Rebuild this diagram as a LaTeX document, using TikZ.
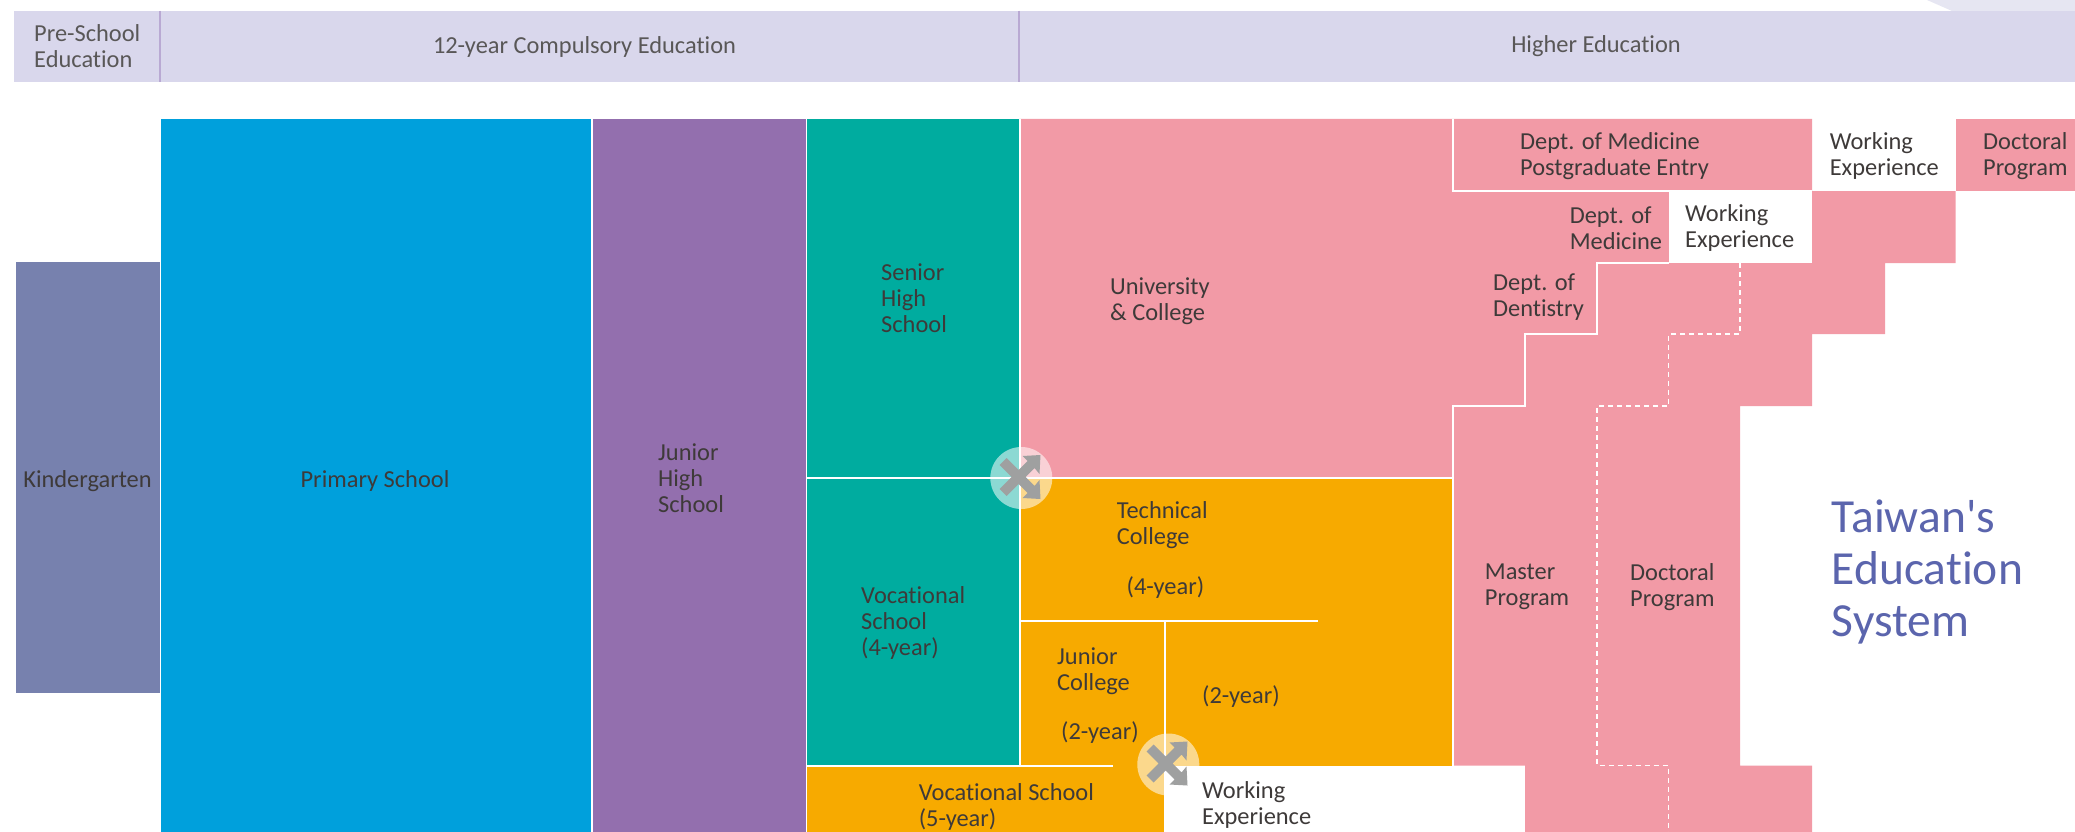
\documentclass[tikz,border=0pt]{standalone}
\usepackage{fontspec}
\newfontfamily\lblfont[Ligatures=NoCommon]{Carlito}
\definecolor{hdr}{HTML}{D9D7EC}
\definecolor{hdrlight}{HTML}{E6E6F2}
\definecolor{hdrsep}{HTML}{B9A9D3}
\definecolor{kinder}{HTML}{7781AE}
\definecolor{primaryblue}{HTML}{00A0DC}
\definecolor{juniorpurple}{HTML}{936FAE}
\definecolor{tealc}{HTML}{00AC9F}
\definecolor{pinkc}{HTML}{F29AA6}
\definecolor{orangec}{HTML}{F7AA00}
\definecolor{txt}{HTML}{3E3A39}
\definecolor{hdrtxt}{HTML}{595757}
\definecolor{titlec}{HTML}{5B65AD}
\definecolor{arrowgrey}{HTML}{9FA0A0}
\tikzset{
  lbl/.style={anchor=west,align=left,inner sep=0pt,text=txt,font=\lblfont\fontsize{24.4}{26}\selectfont},
  clbl/.style={lbl,anchor=center,align=center},
  hlbl/.style={inner sep=0pt,text=hdrtxt,font=\lblfont\fontsize{24.4}{26}\selectfont},
  sep/.style={draw=white,line width=2pt},
  dsh/.style={draw=white,line width=1.4pt,dash pattern=on 5pt off 4pt},
  crossmark/.pic={
    \fill[white,opacity=.55] (2.8,1) circle (31);
    \fill[arrowgrey] (-19,-12) -- (-12,-19) -- (0,-7) -- (9,-16) -- (4,-21) -- (22,-22) -- (21,-3) -- (16,-9) -- (7,0)
      -- (16,9) -- (21,3) -- (22,22) -- (4,21) -- (9,16) -- (0,7) -- (-12,19) -- (-19,12) -- (-7,0) -- cycle;
  }
}
\begin{document}
\begin{tikzpicture}[x=1pt,y=-1pt]
\useasboundingbox (0,0) rectangle (2075,832);
\clip (0,0) rectangle (2075,832);
% header
\fill[hdrlight] (1927,0) -- (2075,0) -- (2075,11) -- (1952,11) -- cycle;
\fill[hdr] (14,10.6) rectangle (2075,81.7);
\draw[hdrsep,line width=1.4pt] (160,10.6) -- (160,81.7) (1019,10.6) -- (1019,81.7);
% blocks
\fill[kinder] (16,262) rectangle (159.5,693.4);
\fill[primaryblue] (161,118.8) rectangle (590.5,832);
\fill[juniorpurple] (592.5,118.8) rectangle (806,832);
\fill[tealc] (807,118.8) rectangle (1018.5,765.5);
\fill[pinkc] (1019,118.8) -- (1812,118.8) -- (1812,191) -- (1955.5,191) -- (1955.5,263) -- (1885,263) -- (1885,334)
  -- (1812,334) -- (1812,406) -- (1740,406) -- (1740,765.5) -- (1812,765.5) -- (1812,832) -- (1525,832) -- (1525,765.5)
  -- (1453,765.5) -- (1453,477.5) -- (1019,477.5) -- cycle;
\fill[white] (1668.5,191) rectangle (1812,263);
\fill[pinkc] (1956,118.8) rectangle (2075,191);
\fill[orangec] (1019,477.5) rectangle (1453,765.5);
\fill[orangec] (807,765.5) rectangle (1164,832);
% white lines
\draw[sep] (1019.5,118.8) -- (1019.5,765.5);
\draw[sep] (807,477.5) -- (1453,477.5);
\draw[sep] (1019.5,620.7) -- (1317.5,620.7);
\draw[sep] (1165,620.7) -- (1165,765.5);
\draw[sep] (807,765.5) -- (1113,765.5);
\draw[sep] (1453,118.8) -- (1453,191) -- (1812,191);
\draw[sep] (1668.5,263) -- (1597,263) -- (1597,334) -- (1525,334) -- (1525,406) -- (1453,406) -- (1453,765.5);
\draw[dsh] (1740,263) -- (1740,334) -- (1668.5,334) -- (1668.5,406) -- (1597,406) -- (1597,765.5) -- (1668.5,765.5) -- (1668.5,832);
\fill[white] (1164,765.5) rectangle (1525,832);
% crossings
\pic at (1018.5,477) {crossmark};
\pic at (1165.5,763.5) {crossmark};
% header labels
\node[hlbl,anchor=west,align=left] (pre) at (34,46.2) {Pre-School\\Education};
\node[hlbl] (comp) at (584.5,47.2) {12-year Compulsory Education};
\node[hlbl] (high) at (1596,46) {Higher Education};
% labels
\node[clbl] (kg) at (87.5,481) {Kindergarten};
\node[clbl] (ps) at (375,481) {Primary School};
\node[lbl] (jh) at (658,478.5) {Junior\\High\\School};
\node[lbl] (sh) at (881,298) {Senior\\High\\School};
\node[lbl] (v4) at (861,622.5) {Vocational\\School\\(4-year)};
\node[lbl] (v5) at (918.6,806.5) {Vocational School\\(5-year)};
\node[lbl] (uc) at (1110,301) {University\\\& College};
\node[lbl] (dmp) at (1520,155.7) {Dept. of Medicine\\Postgraduate Entry};
\node[lbl] (we1) at (1829.6,155.7) {Working\\Experience};
\node[lbl] (dp1) at (1983,155.7) {Doctoral\\Program};
\node[lbl] (dm) at (1569.6,228.3) {Dept. of\\Medicine};
\node[lbl] (we2) at (1685,228.3) {Working\\Experience};
\node[lbl] (dd) at (1493,297.3) {Dept. of\\Dentistry};
\node[lbl] (tc) at (1116.6,525) {Technical\\College};
\node[lbl] (tc4) at (1126.5,587.7) {(4-year)};
\node[lbl] (jc) at (1057,671.5) {Junior\\College};
\node[lbl] (jc2) at (1061,733) {(2-year)};
\node[lbl] (y2) at (1202,697) {(2-year)};
\node[lbl] (mp) at (1484.7,587) {Master\\Program};
\node[lbl] (dp2) at (1630,587) {Doctoral\\Program};
\node[lbl] (we3) at (1202,804.5) {Working\\Experience};
\node[lbl,text=titlec,font=\lblfont\fontsize{47.5}{52}\selectfont] (title) at (1831.6,571.5) {Taiwan's\\Education\\System};
\end{tikzpicture}
\end{document}
